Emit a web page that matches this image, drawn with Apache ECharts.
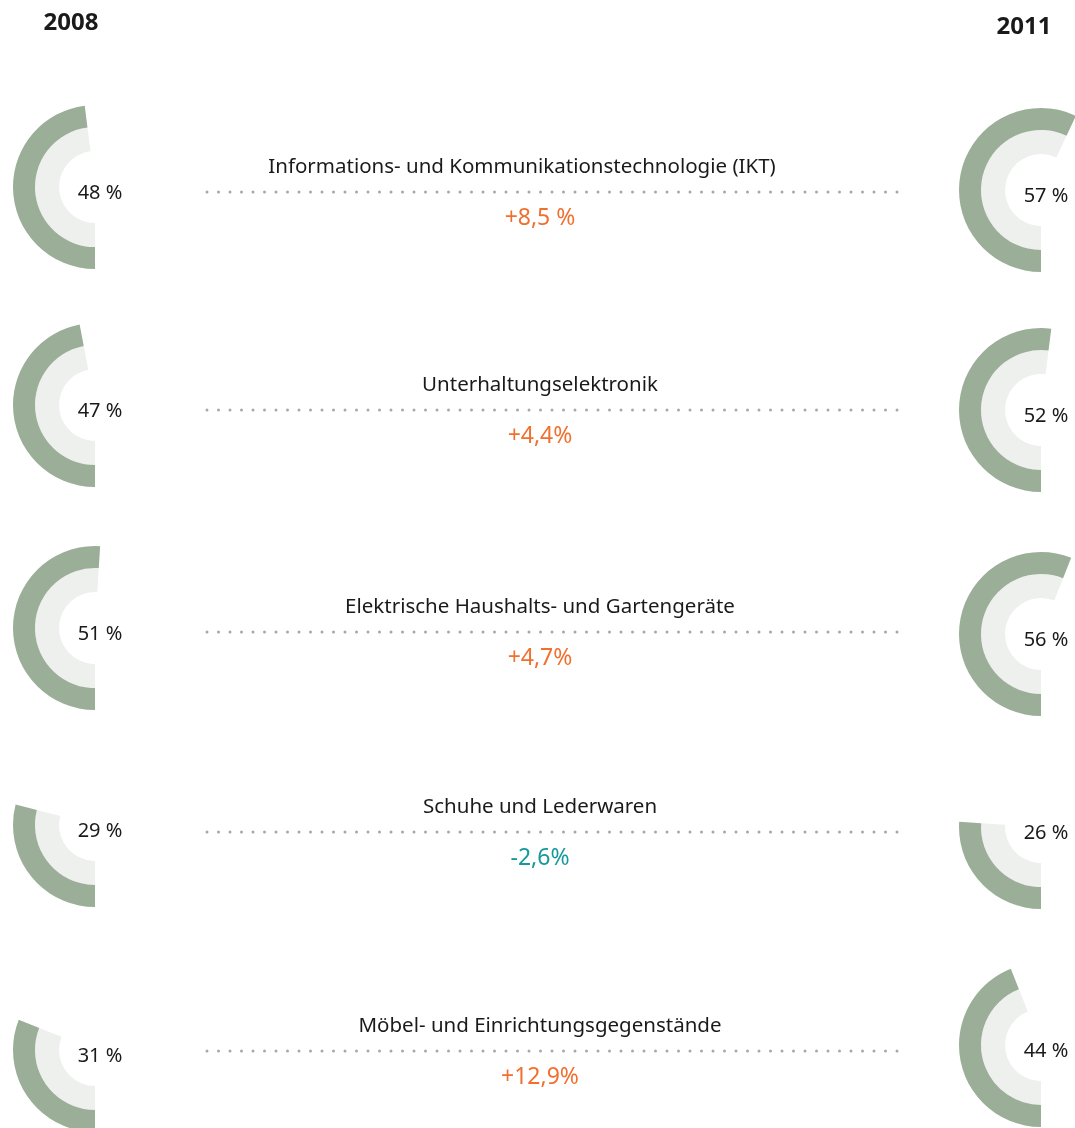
<!DOCTYPE html>
<html>
<head>
<meta charset="utf-8">
<script src="https://cdn.jsdelivr.net/npm/echarts@6/dist/echarts.min.js"></script>
<style>
  html, body { margin: 0; padding: 0; background: #fff; }
  #chart { width: 1075px; height: 1128px; }
</style>
</head>
<body>
<div id="chart"></div>
<script>
// Warengruppen
const categories = [
  'Informations- und Kommunikationstechnologie (IKT)',
  'Unterhaltungselektronik',
  'Elektrische Haushalts- und Gartengeräte',
  'Schuhe und Lederwaren',
  'Möbel- und Einrichtungsgegenstände'
]
// Anteile in %
const share2008 = [48, 47, 51, 29, 31]
const share2011 = [57, 52, 56, 26, 44]
// Veränderung
const changeLabels = ['+8,5 %', '+4,4%', '+4,7%', '-2,6%', '+12,9%']
const years = ['2008', '2011']

// layout
const leftX = 95
const rightX = 1041
const leftY = [187, 405, 628, 825, 1050]
const rightY = [190, 410, 634, 827, 1045]
const lineY = [192, 410, 632, 832, 1051]
const textX = [522, 540, 540, 540, 540]
const font = '"Noto Sans", sans-serif'

const chart = echarts.init(document.getElementById('chart'))

function ring(x, y, value, inner, outer, color, showLabel) {
  return {
    type: 'pie',
    silent: true,
    center: [x, y],
    radius: [inner, outer],
    startAngle: 270,
    clockwise: true,
    animation: false,
    labelLine: { show: false },
    emphasis: { disabled: true },
    data: [
      {
        value: value,
        itemStyle: { color: color },
        label: {
          show: showLabel,
          position: 'center',
          formatter: value + ' %',
          fontFamily: font,
          fontSize: 20,
          color: '#1a1a1a',
          offset: [5, 6]
        }
      },
      { value: 100 - value, itemStyle: { color: 'rgba(0,0,0,0)' }, label: { show: false } }
    ]
  }
}

let series = []
for (let i = 0; i < categories.length; i++) {
  series.push(ring(leftX, leftY[i], share2008[i], 36, 60, '#edf0ec', false))
  series.push(ring(leftX, leftY[i], share2008[i], 60, 82, '#9bae98', true))
  series.push(ring(rightX, rightY[i], share2011[i], 36, 60, '#edf0ec', false))
  series.push(ring(rightX, rightY[i], share2011[i], 60, 82, '#9bae98', true))
}

let graphics = [
  {
    type: 'text', x: 71, y: 23,
    style: { text: years[0], font: 'bold 24px ' + font, fill: '#1a1a1a', align: 'center', verticalAlign: 'middle' }
  },
  {
    type: 'text', x: 1024, y: 27,
    style: { text: years[1], font: 'bold 24px ' + font, fill: '#1a1a1a', align: 'center', verticalAlign: 'middle' }
  }
]

for (let i = 0; i < categories.length; i++) {
  graphics.push({
    type: 'line',
    silent: true,
    shape: { x1: 207, y1: lineY[i], x2: 898, y2: lineY[i] },
    style: { stroke: '#a8a8a8', lineWidth: 3, lineCap: 'round', lineDash: [0, 11.5] }
  })
  graphics.push({
    type: 'text', x: textX[i], y: lineY[i] - 25,
    style: { text: categories[i], font: '20.5px ' + font, fill: '#1a1a1a', align: 'center', verticalAlign: 'middle' }
  })
  graphics.push({
    type: 'text', x: 540, y: lineY[i] + 26,
    style: {
      text: changeLabels[i], font: '23px ' + font,
      fill: changeLabels[i].startsWith('-') ? '#16999a' : '#f0702e',
      align: 'center', verticalAlign: 'middle'
    }
  })
}

chart.setOption({
  backgroundColor: '#ffffff',
  animation: false,
  series: series,
  graphic: graphics
})
</script>
</body>
</html>
